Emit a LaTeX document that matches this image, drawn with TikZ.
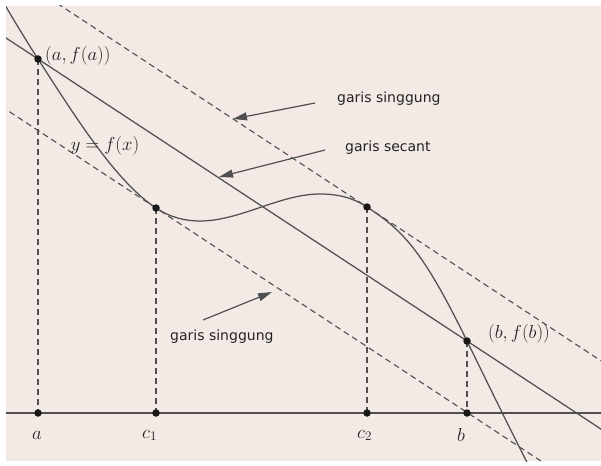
\RequirePackage{fix-cm}
\documentclass[tikz,border=0pt]{standalone}
\usepackage{fontspec}
\newfontfamily\labfont{DejaVu Sans}
\usetikzlibrary{arrows.meta,calc}
\definecolor{bgc}{RGB}{243,234,230}
\definecolor{lc}{RGB}{80,80,80}
\definecolor{tc}{RGB}{35,35,35}
\begin{document}
\begin{tikzpicture}[x=1pt,y=-1pt,
  ln/.style={draw=lc,line width=1.25pt},
  dsh/.style={draw=lc,line width=1.1pt,dash pattern=on 6pt off 4pt},
  dot/.style={circle,fill=black!90,inner sep=0pt,minimum size=7.5pt},
  mlab/.style={text=tc,inner sep=0pt,font=\fontsize{18.8}{21}\selectfont},
  slab/.style={text=tc,inner sep=0pt,font=\labfont\fontsize{14}{16}\selectfont},
  arr/.style={draw=lc,line width=1.2pt,-{Triangle[length=14pt,width=8pt]}}]
\useasboundingbox (0,0) rectangle (601,465);
\fill[white] (0,0) rectangle (601,465);
\fill[bgc] (6,6) rectangle (601,461);

\coordinate (A) at (38,59);
\coordinate (C1) at (156,208);
\coordinate (C2) at (367,207);
\coordinate (B) at (467,341);
\coordinate (XA) at (38,413);
\coordinate (XC1) at (156,413);
\coordinate (XC2) at (367,413);
\coordinate (XB) at (467,413);

\begin{scope}
\clip (6,6) rectangle (601,461);
% tangent lines
\draw[dsh] ($(C2)-0.8*(B)+0.8*(A)$) -- ($(C2)+0.6*(B)-0.6*(A)$);
\draw[dsh] ($(C1)-0.4*(B)+0.4*(A)$) -- ($(C1)+1.0*(B)-1.0*(A)$);
% secant
\draw[ln] ($(A)!-0.2!(B)$) -- ($(A)!1.5!(B)$);
% verticals
\draw[dsh] (A) -- (XA);
\draw[dsh] (C1) -- (XC1);
\draw[dsh] (C2) -- (XC2);
\draw[dsh] (B) -- (XB);
% axis
\draw[draw=lc,line width=1.8pt] (6,413) -- (601,413);
% curve
\draw[ln] (2,0) .. controls (14,20.4) and (26,40.4) .. (A)
  .. controls (77.3,120) and (116.7,182.2) .. (C1)
  .. controls (170.7,217.6) and (185.3,221) .. (200,221)
  .. controls (240,221) and (280,194) .. (320,194)
  .. controls (335.7,194) and (351.3,196.7) .. (C2)
  .. controls (402,230) and (422,248.8) .. (B)
  .. controls (489.7,387.5) and (512.3,433.8) .. (535,478);
\end{scope}

% points
\node[dot] (pA) at (A) {};
\node[dot] (pC1) at (C1) {};
\node[dot] (pC2) at (C2) {};
\node[dot] (pB) at (B) {};
\node[dot] (xA) at (XA) {};
\node[dot] (xC1) at (XC1) {};
\node[dot] (xC2) at (XC2) {};
\node[dot] (xB) at (XB) {};

% math labels
\node[mlab,anchor=base west] (la) at (45,60.5) {$(a,f(a))$};
\node[mlab,anchor=base] (lf) at (105,150) {$y=f(x)$};
\node[mlab,anchor=base west] (lb) at (488,338) {$(b,f(b))$};
\node[mlab,anchor=base west] (ta) at (32,439) {$a$};
\node[mlab,anchor=base west] (tc1) at (142,438) {$c_1$};
\node[mlab,anchor=base west] (tc2) at (357,438) {$c_2$};
\node[mlab,anchor=base west] (tb) at (457,441) {$b$};

% text labels and arrows
\node[slab,anchor=base west] (g1) at (337,103) {garis singgung};
\node[slab,anchor=base west] (g2) at (345,151.5) {garis secant};
\node[slab,anchor=base west] (g3) at (170,340) {garis singgung};
\coordinate (s1) at (315,103);
\coordinate (t1) at (233,119);
\coordinate (s2) at (325,150);
\coordinate (t2) at (219,177);
\coordinate (s3) at (203,320);
\coordinate (t3) at (272,292);
\draw[arr] (s1) -- (t1);
\draw[arr] (s2) -- (t2);
\draw[arr] (s3) -- (t3);
\end{tikzpicture}
\end{document}
